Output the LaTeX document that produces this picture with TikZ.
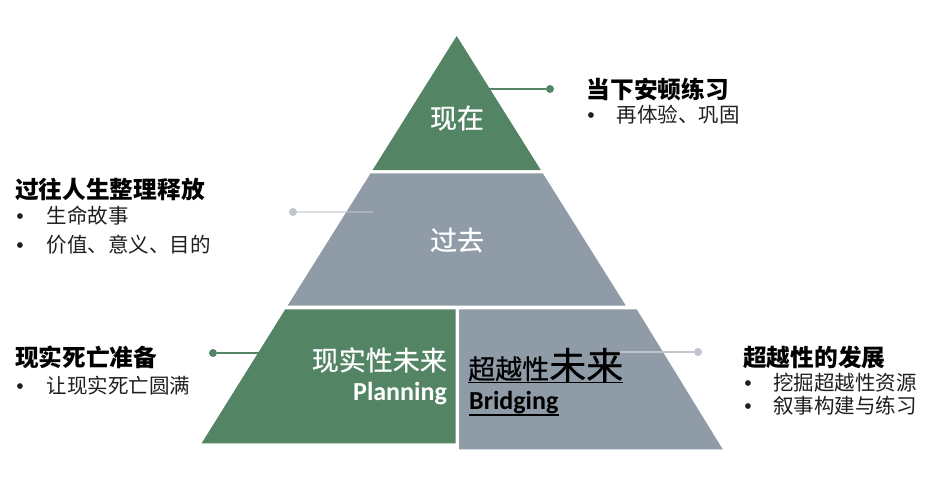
\documentclass[tikz,border=0pt]{standalone}
\usepackage{fontspec}
\setmainfont{Noto Sans CJK SC}
\newfontfamily\medf{Noto Sans CJK SC}[FakeBold=0.6]
\newfontfamily\latb{Carlito}
\newfontfamily\bulf{Liberation Sans}
\definecolor{pgreen}{RGB}{83,133,101}
\definecolor{pgray}{RGB}{143,155,167}
\definecolor{plight}{RGB}{192,196,204}
\begin{document}
\begin{tikzpicture}[x=1pt,y=-1pt,
  head/.style={anchor=west,inner sep=0,font=\fontsize{23.7}{24}\selectfont\bfseries},
  item/.style={anchor=west,inner sep=0,text=black!88,font=\fontsize{20.5}{21}\selectfont},
  bul/.style={inner sep=0,anchor=base,text=black!88,font=\bulf\fontsize{21}{21}\selectfont},
  lbl/.style={inner sep=0,text=white,font=\medf\fontsize{27}{27}\selectfont},
  latl/.style={inner sep=0,font=\latb\bfseries\fontsize{26}{26}\selectfont},
  gline/.style={draw=pgreen,line width=2pt},
  lline/.style={draw=plight,line width=2pt},
  gdot/.style={circle,fill=pgreen,minimum size=8pt,inner sep=0},
  ldot/.style={circle,fill=plight,minimum size=8pt,inner sep=0}]
\path[fill=white] (0,0) rectangle (937,498);
\useasboundingbox (0,0) rectangle (937,498);

% connectors behind the pyramid
\node[ldot] (d2) at (293,212) {};
\coordinate (e2) at (373,212);
\node[gdot] (d3) at (213,353) {};
\coordinate (e3) at (264,353);
\draw[gline] (d3) -- (e3);

% pyramid
\fill[pgreen] (456.7,36) -- (540.8,170) -- (372.6,170) -- cycle;
\fill[pgray] (370.6,173.3) -- (542.8,173.3) -- (625.7,305.5) -- (287.7,305.5) -- cycle;
\fill[pgreen] (285.3,309.3) -- (455.7,309.3) -- (455.7,443.3) -- (201.6,443.3) -- cycle;
\fill[pgray] (459,309.3) -- (636.7,309.3) -- (722.7,449.3) -- (459,449.3) -- cycle;

\draw[lline,opacity=0.55] (d2) -- (e2);

% connectors on top
\coordinate (e1) at (478,89);
\node[gdot] (d1) at (550,89) {};
\draw[gline] (e1) -- (d1);
\coordinate (e4) at (620,352);
\node[ldot] (d4) at (698,352) {};
\draw[lline] (e4) -- (d4);

% pyramid labels
\node[lbl] (now) at (457,118) {现在};
\node[lbl] (past) at (457,240) {过去};
\node[lbl,anchor=east] (rf) at (447,360) {现实性未来};
\node[latl,text=white,anchor=base east] (pl) at (447,400) {Planning};
\node[inner sep=0,anchor=base west,text=black,font=\medf] (tf) at (468,379)
  {{\fontsize{27}{27}\selectfont 超越性}{\fontsize{37}{37}\selectfont 未来}};
\draw[black,line width=1.3pt] ([yshift=-3.5pt]tf.base west) -- ([yshift=-3.5pt]tf.base east);
\node[latl,text=black,anchor=base west] (br) at (469,409) {Bridging};
\draw[black,line width=1.3pt] ([yshift=-6pt]br.base west) -- ([yshift=-6pt]br.base east);

% side texts
\node[head] (h1) at (586.5,89) {当下安顿练习};
\node[bul] (b1) at (591,122.5) {•};
\node[item] (i1) at (616.5,115) {再体验、巩固};

\node[head] (h2) at (15,189) {过往人生整理释放};
\node[bul] (b2) at (20,223.5) {•};
\node[item] (i2) at (46.5,216) {生命故事};
\node[bul] (b3) at (20,252.5) {•};
\node[item] (i3) at (46.5,245) {价值、意义、目的};

\node[head] (h3) at (15,357) {现实死亡准备};
\node[bul] (b4) at (20,393.5) {•};
\node[item] (i4) at (46.5,386) {让现实死亡圆满};

\node[head] (h4) at (743,357) {超越性的发展};
\node[bul] (b5) at (748,390.5) {•};
\node[item] (i5) at (773,383) {挖掘超越性资源};
\node[bul] (b6) at (748,413.5) {•};
\node[item] (i6) at (773,406) {叙事构建与练习};
\end{tikzpicture}
\end{document}
